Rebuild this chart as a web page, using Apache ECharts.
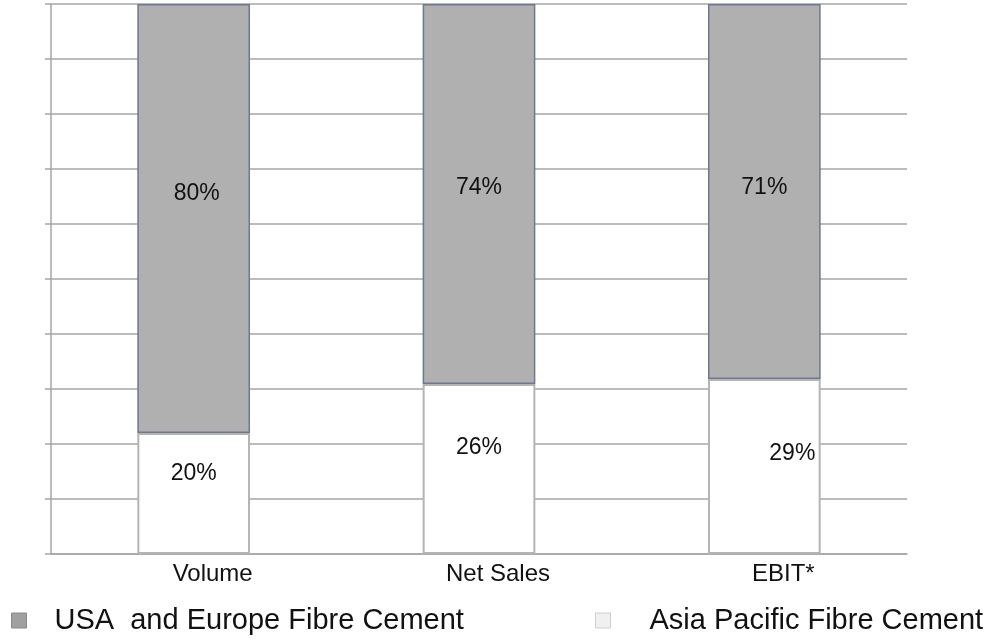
<!DOCTYPE html>
<html lang="en">
<head>
	<meta charset="UTF-8">
	<title>Fibre Cement split</title>
	<script src="https://cdn.jsdelivr.net/npm/echarts@6/dist/echarts.min.js"></script>
	<style>
		html, body { margin: 0; padding: 0; background: #fff; }
	</style>
</head>
<body>
	<div id="main" style="width: 988px;height: 642px;"></div>
	<script>
		// categories and values (bar heights as drawn, labels as printed)
		var categories = ['Volume', 'Net Sales', 'EBIT*'];
		var asiaValues = [22, 30.9, 31.8];
		var usaValues = [78, 69.1, 68.2];
		var asiaLabels = ['20%', '26%', '29%'];
		var usaLabels = ['80%', '74%', '71%'];
		var seriesNames = ['USA  and Europe Fibre Cement', 'Asia Pacific Fibre Cement'];

		var myChart = echarts.init(document.getElementById('main'));

		function withLabels(values, labels, yOff, xOffs) {
			return values.map(function (v, i) {
				return {
					value: v,
					label: { formatter: labels[i], offset: [xOffs[i], yOff[i]] }
				};
			});
		}

		var sans = '"Liberation Sans", Arial, sans-serif';
		var labelFont = {
			show: true,
			position: 'inside',
			color: '#111',
			fontSize: 23,
			fontFamily: sans
		};
		var legendText = { fontSize: 29, color: '#111', fontFamily: sans };

		var option = {
			animation: false,
			grid: { left: 51, right: 81, top: 4, bottom: 88 },
			legend: [
				{
					data: [{ name: seriesNames[0], itemStyle: { color: '#a0a0a0', borderColor: '#8a8a8a', borderWidth: 1 } }],
					left: 6, top: 601, itemGap: 0,
					icon: 'rect', itemWidth: 15, itemHeight: 15,
					textStyle: Object.assign({ padding: [0, 0, 0, 23] }, legendText)
				},
				{
					data: [{ name: seriesNames[1], itemStyle: { color: '#f0f0f0', borderColor: '#cfcfcf', borderWidth: 1 } }],
					left: 590, top: 601, itemGap: 0,
					icon: 'rect', itemWidth: 15, itemHeight: 15,
					textStyle: Object.assign({ padding: [0, 0, 0, 34] }, legendText)
				}
			],
			xAxis: {
				type: 'category',
				data: categories,
				axisLine: { lineStyle: { color: '#a6a6a6', width: 1.5 } },
				axisTick: { show: false },
				axisLabel: {
					color: '#111', fontSize: 24, margin: 8,
					padding: [0, 0, 0, 38],
					fontFamily: sans
				}
			},
			yAxis: {
				type: 'value',
				min: 0, max: 100, interval: 10,
				axisLine: { show: true, lineStyle: { color: '#a6a6a6', width: 1.5 } },
				axisTick: { show: true, length: 6, lineStyle: { color: '#a6a6a6', width: 1.5 } },
				axisLabel: { show: false },
				splitLine: { lineStyle: { color: '#a6a6a6', width: 1.5 } }
			},
			series: [
				{
					name: seriesNames[1],
					type: 'bar',
					stack: 'total',
					barWidth: '39.5%',
					itemStyle: { color: '#ffffff', borderColor: '#b4b4b4', borderWidth: 2 },
					label: labelFont,
					data: withLabels(asiaValues, asiaLabels, [-20, -21, -13], [0, 0, 28])
				},
				{
					name: seriesNames[0],
					type: 'bar',
					stack: 'total',
					barWidth: '39.5%',
					itemStyle: { color: '#b0b0b0', borderColor: '#6f7891', borderWidth: 1.5 },
					label: labelFont,
					data: withLabels(usaValues, usaLabels, [-25, -6, -4], [3, 0, 0])
				}
			]
		};

		myChart.setOption(option);
	</script>
</body>
</html>
